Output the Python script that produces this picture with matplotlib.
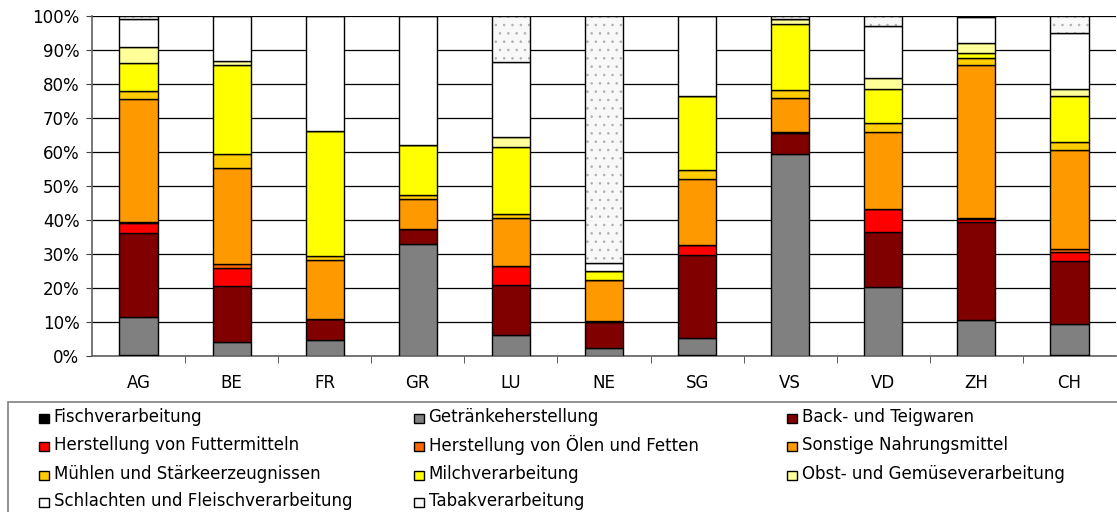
import matplotlib
matplotlib.use("Agg")
import matplotlib.pyplot as plt
from matplotlib.patches import Rectangle
import numpy as np

plt.rcParams['font.family'] = ['DejaVu Sans']
plt.rcParams['hatch.linewidth'] = 0.6

categories = ["AG", "BE", "FR", "GR", "LU", "NE", "SG", "VS", "VD", "ZH", "CH"]

series_names = [
    "Fischverarbeitung",
    "Getränkeherstellung",
    "Back- und Teigwaren",
    "Herstellung von Futtermitteln",
    "Herstellung von Ölen und Fetten",
    "Sonstige Nahrungsmittel",
    "Mühlen und Stärkeerzeugnissen",
    "Milchverarbeitung",
    "Obst- und Gemüseverarbeitung",
    "Schlachten und Fleischverarbeitung",
    "Tabakverarbeitung",
]

fisch      = [0.4, 0.0, 0.0, 0.0, 0.0, 0.0, 0.3, 0.0, 0.0, 0.0, 0.3]
getraenke  = [11.2, 4.2, 4.7, 33.0, 6.1, 2.4, 5.1, 59.5, 20.2, 10.6, 9.2]
back       = [24.5, 16.4, 6.1, 4.2, 14.8, 7.6, 24.3, 6.0, 16.1, 28.9, 18.5]
futter     = [2.9, 5.2, 0.0, 0.0, 5.6, 0.0, 2.9, 0.0, 6.8, 0.7, 2.7]
oele       = [0.5, 1.1, 0.0, 0.0, 0.0, 0.3, 0.0, 0.3, 0.0, 0.3, 0.7]
sonstige   = [36.0, 28.4, 17.4, 8.9, 14.0, 12.0, 19.4, 9.9, 22.7, 44.9, 29.1]
muehlen    = [2.4, 4.2, 1.2, 1.3, 1.3, 0.0, 2.6, 2.4, 2.6, 2.1, 2.3]
milch      = [8.2, 26.0, 36.8, 14.7, 19.6, 2.7, 21.9, 19.5, 10.0, 1.4, 13.7]
obst       = [4.6, 1.3, 0.0, 0.0, 3.0, 0.0, 0.0, 1.5, 3.3, 3.1, 1.9]
schlachten = [8.3, 13.2, 33.8, 37.9, 22.0, 2.3, 23.5, 0.0, 15.3, 7.5, 16.6]
tabak      = [0.8, 0.0, 0.0, 0.0, 13.6, 72.7, 0.0, 0.9, 3.0, 0.5, 5.0]

series_values = [fisch, getraenke, back, futter, oele, sonstige,
                 muehlen, milch, obst, schlachten, tabak]

colors = ["#000000", "#808080", "#800000", "#FF0000", "#FF6600", "#FF9900",
          "#FFCC00", "#FFFF00", "#FFFF99", "#FFFFFF", "#F8F8F8"]
hatches = [None] * 10 + [".."]

W, H = 1117, 512
fig = plt.figure(figsize=(W / 100, H / 100), dpi=100)
ax = fig.add_axes([92 / W, 1 - 356 / H, 1024 / W, (356 - 15.7) / H])

x = np.arange(len(categories))
bottom = np.zeros(len(categories))
for name, vals, c, h in zip(series_names, series_values, colors, hatches):
    v = np.array(vals, dtype=float)
    if h:
        ax.bar(x, v, width=0.41, bottom=bottom, color=c, edgecolor="#b0b0b0",
               linewidth=0, hatch=h, zorder=3)
        ax.bar(x, v, width=0.41, bottom=bottom, facecolor="none",
               edgecolor="black", linewidth=1.0, zorder=3.1)
    else:
        ax.bar(x, v, width=0.41, bottom=bottom, color=c, edgecolor="black",
               linewidth=1.0, zorder=3)
    bottom += v

ax.set_xlim(-0.5, len(categories) - 0.5)
ax.set_ylim(0, 100)
ax.set_yticks(np.arange(0, 101, 10))
ax.set_yticklabels([f"{v}%" for v in range(0, 101, 10)], fontsize=12)
ax.set_xticks(x)
ax.set_xticklabels(categories, fontsize=12)
ax.set_xticks(np.arange(0.5, len(categories) - 0.5, 1), minor=True)
ax.tick_params(axis="x", which="major", length=0, pad=13)
ax.tick_params(axis="x", which="minor", length=5, color="#404040")
ax.tick_params(axis="y", length=4, color="#404040", pad=5)
ax.yaxis.grid(True, color="black", linewidth=0.9, zorder=0)
ax.set_axisbelow(True)
for s in ["top", "right"]:
    ax.spines[s].set_visible(False)
ax.spines["left"].set_color("#606060")
ax.spines["bottom"].set_color("#606060")
ax.spines["left"].set_linewidth(1.2)
ax.spines["bottom"].set_linewidth(1.2)

# legend box
fig.patches.append(Rectangle((8 / W, -0.05), 1.2, (512 - 402) / H + 0.05,
                             transform=fig.transFigure, facecolor="white",
                             edgecolor="#808080", linewidth=1.2))

col_x = [39, 414, 787]
row_y = [418, 446, 475, 502]
for i, (name, c) in enumerate(zip(series_names, colors)):
    r, col = divmod(i, 3)
    mx, my = col_x[col], row_y[r]
    fig.patches.append(Rectangle((mx / W, 1 - (my + 5) / H), 9.5 / W, 9.5 / H,
                                 transform=fig.transFigure, facecolor=c,
                                 edgecolor="black", linewidth=1.0))
    fig.text((mx + 14.5) / W, 1 - (my - 1) / H, name, fontsize=12,
             va="center", ha="left")

fig.savefig("out.png", dpi=100)
